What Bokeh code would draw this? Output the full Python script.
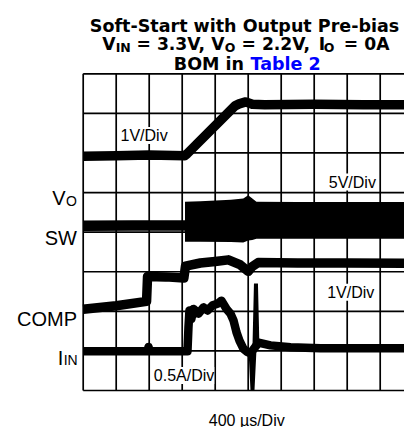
from bokeh.plotting import figure
from bokeh.models import Range1d, Label
from bokeh.embed import file_html
from bokeh.resources import INLINE

# ---------------- data (time in µs, 400 µs/div; vertical in screen divisions) ----------------
grid_time_us = [0, 400, 800, 1200, 1600, 2000, 2400, 2800, 3200, 3600, 4000]
grid_div = [0, 1, 2, 3, 4, 5, 6, 7, 8]

vo_t = [0, 400, 800, 1230, 1260, 1840, 1890, 1970, 2050, 2200, 2800, 3400, 4000]
vo_div = [5.92, 5.93, 5.95, 5.93, 5.98, 7.19, 7.24, 7.29, 7.23, 7.22, 7.23, 7.22, 7.22]

sw_pre_t = [0, 600, 1236]
sw_pre_div = [4.16, 4.17, 4.17]
sw_t = [1234, 1420, 1790, 1940, 2000, 2050, 2100, 2600, 4000]
sw_hi = [4.77, 4.78, 4.82, 4.85, 4.93, 4.85, 4.77, 4.76, 4.76]
sw_lo = [3.76, 3.76, 3.75, 3.74, 3.79, 3.80, 3.83, 3.83, 3.83]

comp_t = [0, 400, 768, 780, 1000, 1220, 1240, 1420, 1600, 1760, 1900, 2000, 2048, 2120, 2600, 3200, 4000]
comp_div = [2.05, 2.14, 2.25, 2.88, 2.87, 2.84, 3.14, 3.22, 3.26, 3.30, 3.18, 3.01, 3.13, 3.23, 3.22, 3.22, 3.21]

iin_t = [0, 400, 780, 792, 804, 1264, 1276, 1288, 1310, 1337, 1398, 1458, 1507, 1567, 1628, 1676,
         1737, 1786, 1822, 1858, 1894, 1943, 1992, 2028, 2125, 2270, 2513, 2876, 4000]
iin_div = [0.99, 0.99, 0.99, 1.10, 0.99, 0.99, 1.60, 2.02, 1.80, 2.06, 1.94, 2.10, 2.02, 2.15, 2.19, 2.27,
           2.06, 1.94, 1.77, 1.47, 1.26, 1.05, 0.97, 0.94, 1.21, 1.14, 1.09, 1.07, 1.07]
iin_spike_t = [2030, 2052, 2074, 2094, 2112]
iin_spike_div = [0.94, 0.0, 0.94, 2.70, 1.10]

# ---------------- layout ----------------
W, H = 404, 427
X0, Y0 = 82.7, 390.0          # px of the grid origin
PXX, PXY = 33.0, 39.59        # px per division
US = 400.0


def px(x):
    return (x - X0) / PXX * US


def py(y):
    return (Y0 - y) / PXY


p = figure(width=W, height=H, output_backend="svg", toolbar_location=None,
           x_range=Range1d(px(0), px(W)), y_range=Range1d(py(H), py(0)),
           x_axis_type=None, y_axis_type=None, min_border=0)
p.outline_line_color = None
p.background_fill_color = "white"
p.border_fill_color = "white"

# grid
p.segment(x0=grid_time_us, y0=[grid_div[0]] * len(grid_time_us),
          x1=grid_time_us, y1=[grid_div[-1]] * len(grid_time_us),
          line_color="black", line_width=1.7)
p.segment(x0=[grid_time_us[0]] * len(grid_div), y0=grid_div,
          x1=[grid_time_us[-1]] * len(grid_div), y1=grid_div,
          line_color="black", line_width=1.7)

LW = 9.5
p.line(vo_t, vo_div, line_color="black", line_width=LW, line_join="round")
p.line(sw_pre_t, sw_pre_div, line_color="black", line_width=LW + 1)
p.varea(x=sw_t, y1=sw_lo, y2=sw_hi, fill_color="black")
p.line(comp_t, comp_div, line_color="black", line_width=LW, line_join="round")
p.line(iin_t, iin_div, line_color="black", line_width=LW - 1, line_join="round")
p.line(iin_spike_t, iin_spike_div, line_color="black", line_width=4, line_join="miter")


def lab(txt, x, y, size, font="Liberation Sans", style="normal", color="black", align="left", bg=None):
    p.add_layout(Label(x=px(x), y=py(y), text=txt, text_font=font, text_font_size=f"{size}px",
                       text_font_style=style, text_color=color, text_align=align,
                       text_baseline="alphabetic", background_fill_color=bg))


# title
TF = "DejaVu Sans"
lab("Soft-Start with Output Pre-bias", 244, 25, 17.5, TF, "bold", align="center")
lab("V", 101.7, 43.3, 17.2, TF, "bold")
lab("IN", 115.2, 46.8, 12.5, TF, "bold")
lab("= 3.3V,", 136, 43.3, 17.2, TF, "bold")
lab("V", 210.8, 43.3, 17.2, TF, "bold")
lab("O", 224.3, 46.8, 12.5, TF, "bold")
lab("= 2.2V,", 241, 43.3, 17.2, TF, "bold")
lab("I", 318.3, 43.3, 17.2, TF, "bold")
lab("O", 323.3, 46.8, 12.5, TF, "bold")
lab("= 0A", 343.3, 43.3, 17.2, TF, "bold")
lab("BOM in", 243.5, 63.3, 17.5, TF, "bold", align="right")
lab("Table 2", 250, 63.3, 17.5, TF, "bold", color="#0000ff")

# channel labels
lab("V", 51.7, 197.5, 20)
lab("O", 65.5, 200.5, 14)
lab("SW", 76.5, 237.3, 20, align="right")
lab("COMP", 76.5, 318.5, 20, align="right")
lab("I", 57.3, 357, 20)
lab("IN", 63.2, 359.5, 14)

# scale labels
lab("1V/Div", 120, 135, 16, bg="white")
lab("5V/Div", 328.3, 181.6, 16, bg="white")
lab("1V/Div", 326.7, 291.7, 16, bg="white")
lab("0.5A/Div", 153.3, 375, 16, bg="white")
lab("400 µs/Div", 208.3, 419.5, 16)

open("out.html", "w").write(file_html(p, INLINE))
